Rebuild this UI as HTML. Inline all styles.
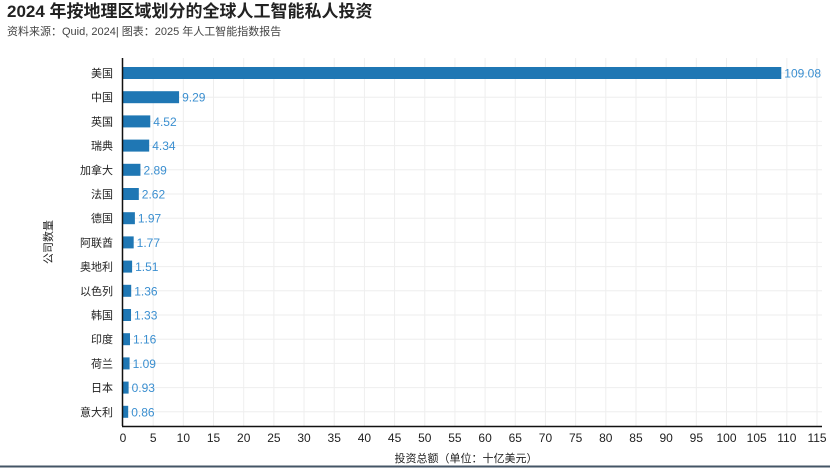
<!DOCTYPE html>
<html><head><meta charset="utf-8"><style>
body{margin:0;background:#fff;width:830px;height:468px;overflow:hidden;font-family:"Liberation Sans","Noto Sans CJK SC",sans-serif}
</style></head><body>
<svg width="830" height="468" xmlns="http://www.w3.org/2000/svg" font-family="Liberation Sans, Noto Sans CJK SC, sans-serif">
<text x="7" y="17" font-size="17" font-weight="bold" fill="#222">2024 年按地理区域划分的全球人工智能私人投资</text>
<text x="7" y="35" font-size="11" fill="#444">资料来源：Quid, 2024| 图表：2025 年人工智能指数报告</text>
<g id="grid" stroke="#eeeeee" stroke-width="1"></g>
<g id="bars"></g>
<line x1="122.5" y1="58" x2="122.5" y2="426" stroke="#111" stroke-width="1.5"/>
<line x1="122" y1="426.5" x2="822" y2="426.5" stroke="#111" stroke-width="1.5"/>
<g id="ticks" font-size="12" fill="#222" text-anchor="middle"></g>
<text x="466" y="462" font-size="11" fill="#222" text-anchor="middle">投资总额（单位：十亿美元）</text>
<text transform="translate(52,242) rotate(-90)" font-size="11" fill="#222" text-anchor="middle">公司数量</text>
<line x1="0" y1="466.5" x2="830" y2="466.5" stroke="#456" stroke-width="2"/>
</svg>
<script>
const ns="http://www.w3.org/2000/svg";
const d=[["美国",109.08],["中国",9.29],["英国",4.52],["瑞典",4.34],["加拿大",2.89],["法国",2.62],["德国",1.97],["阿联酋",1.77],["奥地利",1.51],["以色列",1.36],["韩国",1.33],["印度",1.16],["荷兰",1.09],["日本",0.93],["意大利",0.86]];
const x0=123,s=6.035;
function el(t,a,txt){const e=document.createElementNS(ns,t);for(const k in a)e.setAttribute(k,a[k]);if(txt!=null)e.textContent=txt;return e;}
const g=document.getElementById("grid"),b=document.getElementById("bars"),tk=document.getElementById("ticks");
for(let v=0;v<=115;v+=5){const x=x0+v*s;if(v>0)g.appendChild(el("line",{x1:x,y1:58,x2:x,y2:426}));tk.appendChild(el("text",{x:x,y:442},String(v)));}
d.forEach((r,i)=>{const y=73+i*24.2;g.appendChild(el("line",{x1:122,y1:y,x2:822,y2:y}));
b.appendChild(el("rect",{x:123,y:y-6,width:r[1]*s,height:12,fill:"#1f77b4"}));
b.appendChild(el("text",{x:123+r[1]*s+3,y:y+4.5,"font-size":"12",fill:"#3b8fd0"},r[1].toFixed(2)));
b.appendChild(el("text",{x:113,y:y+4,"font-size":"11",fill:"#222","text-anchor":"end"},r[0]));});
</script>
</body></html>
